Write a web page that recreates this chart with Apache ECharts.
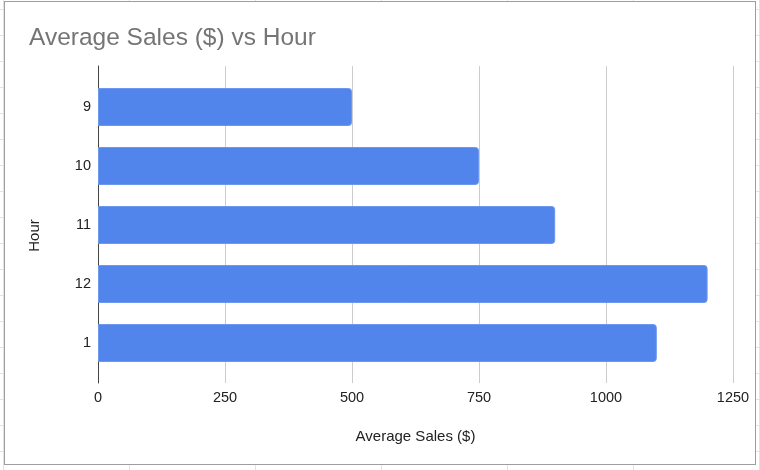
<!DOCTYPE html>
<html>
<head>
<meta charset="utf-8">
<script src="https://cdn.jsdelivr.net/npm/echarts@6/dist/echarts.min.js"></script>
<style>
  html, body { margin: 0; padding: 0; }
  body {
    width: 760px; height: 470px; position: relative; overflow: hidden;
    background-color: #fff;
    background-image:
      repeating-linear-gradient(to bottom, transparent 0, transparent 9px, #e2e2e2 9px, #e2e2e2 10px, transparent 10px, transparent 26px),
      repeating-linear-gradient(to right, transparent 0, transparent 3px, #e2e2e2 3px, #e2e2e2 4px, transparent 4px, transparent 126px);
  }
  #chart {
    position: absolute; left: 4px; top: 1px;
    width: 750px; height: 462px;
    border: 1px solid #9e9e9e; background: #fff;
  }
</style>
</head>
<body>
<div id="chart"></div>
<script>
// 数据
var hours = ['9', '10', '11', '12', '1'];
var sales = [500, 750, 900, 1200, 1100];
var salesTicks = [0, 250, 500, 750, 1000, 1250];

var myChart = echarts.init(document.getElementById('chart'));

var labelFont = 'Liberation Sans, Arial, sans-serif';

var option = {
  animation: false,
  title: {
    text: 'Average Sales ($) vs Hour',
    left: 19,
    top: 19,
    textStyle: {
      color: '#757575',
      fontFamily: labelFont,
      fontWeight: 'normal',
      fontSize: 24.5
    }
  },
  grid: [
    { left: 93, right: 22, top: 64, bottom: 81 },
    { left: 93, right: 22, top: 75.5, height: 295 }
  ],
  xAxis: [{
    gridIndex: 0,
    type: 'value',
    min: salesTicks[0],
    max: salesTicks[salesTicks.length - 1],
    interval: 250,
    name: 'Average Sales ($)',
    nameLocation: 'middle',
    nameGap: 46,
    nameTextStyle: { color: '#222', fontFamily: labelFont, fontSize: 15 },
    axisLine: { show: false },
    axisTick: { show: false },
    axisLabel: {
      color: '#222', fontFamily: labelFont, fontSize: 14.5, margin: 7,
      formatter: function (v) { return String(v); }
    },
    splitLine: { lineStyle: { color: '#cccccc', width: 1 } }
  }, {
    gridIndex: 1,
    type: 'value',
    min: salesTicks[0],
    max: salesTicks[salesTicks.length - 1],
    show: false
  }],
  yAxis: [{
    gridIndex: 0,
    type: 'category',
    data: hours,
    inverse: true,
    axisLine: { show: true, lineStyle: { color: '#444', width: 1 } },
    axisTick: { show: false },
    axisLabel: { show: false },
    name: 'Hour',
    nameLocation: 'middle',
    nameGap: 56,
    nameRotate: 90,
    nameTextStyle: { color: '#222', fontFamily: labelFont, fontSize: 15, padding: [0, 22, 0, 0] }
  }, {
    gridIndex: 1,
    type: 'category',
    data: hours,
    inverse: true,
    axisLine: { show: false },
    axisTick: { show: false },
    axisLabel: { color: '#222', fontFamily: labelFont, fontSize: 14.5, margin: 7 }
  }],
  series: [{
    name: 'Average Sales ($)',
    type: 'bar',
    xAxisIndex: 1,
    yAxisIndex: 1,
    data: sales,
    barWidth: 38,
    itemStyle: {
      color: '#5185ec',
      borderColor: '#6d98ef',
      borderWidth: 1,
      borderRadius: [0, 3, 3, 0]
    }
  }]
};

myChart.setOption(option);
</script>
</body>
</html>
